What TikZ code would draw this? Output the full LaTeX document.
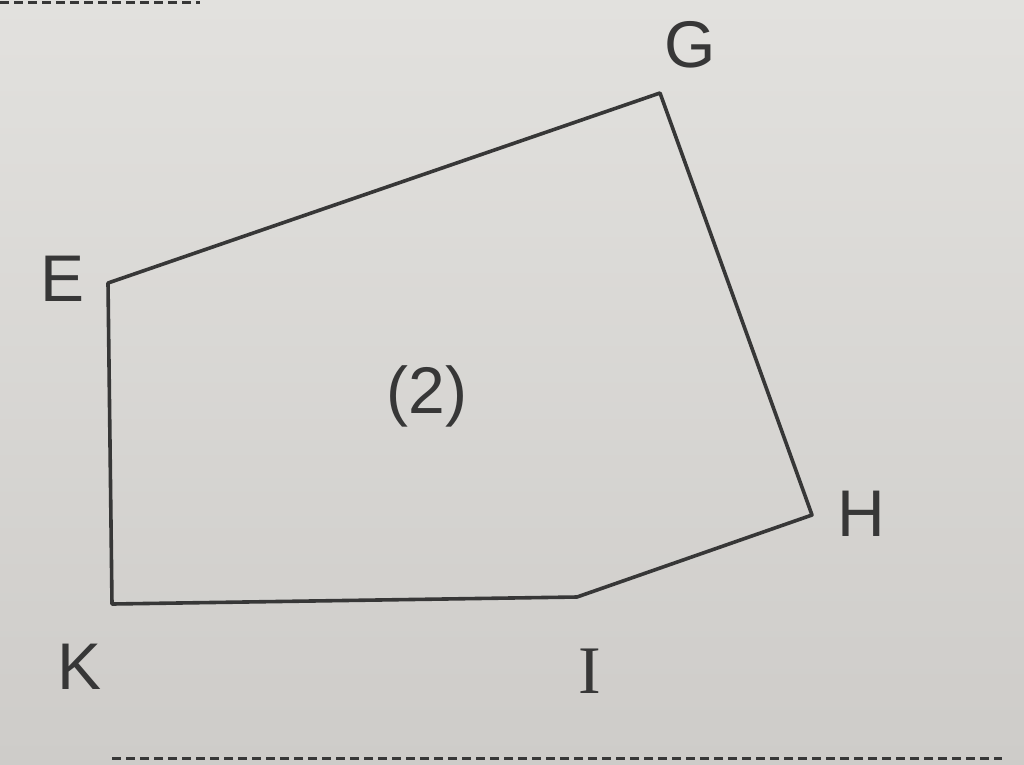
\documentclass[tikz,border=0pt]{standalone}
\usepackage{fontspec}
\setmainfont{Liberation Sans}
\newfontfamily\serifI{Liberation Serif}
\definecolor{paper}{RGB}{226,225,222}
\definecolor{paperlow}{RGB}{206,204,201}
\definecolor{ink}{RGB}{55,55,55}
\begin{document}
\begin{tikzpicture}[x=1pt,y=-1pt,
  edge/.style={draw=ink,line width=3.6pt,line join=round,line cap=round},
  lbl/.style={text=ink,font=\fontsize{66}{72}\selectfont,inner sep=0pt},
  rule/.style={draw=ink,line width=3pt,dash pattern=on 9pt off 5pt}]
\shade[top color=paper,bottom color=paperlow,use as bounding box] (0,0) rectangle (1024,764);
\draw[rule] (0,2) -- (200,2);
\draw[rule] (112,758) -- (1002,758);
\coordinate (E) at (108,283);
\coordinate (G) at (660,93);
\coordinate (H) at (812,515);
\coordinate (I) at (577,597);
\coordinate (K) at (112,604);
\draw[edge] (E) -- (G) -- (H) -- (I) -- (K) -- cycle;
\node[lbl] (lG) at (690,45) {G};
\node[lbl] (lE) at (63,279) {E};
\node[lbl] (lH) at (861,514) {H};
\node[lbl,font=\serifI\fontsize{68}{72}\selectfont] (lI) at (590,671) {I};
\node[lbl] (lK) at (80,667) {K};
\node[lbl] (l2) at (427,396) {(2)};
\end{tikzpicture}
\end{document}
